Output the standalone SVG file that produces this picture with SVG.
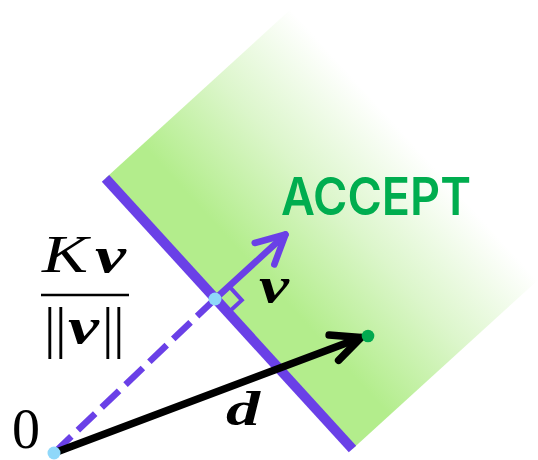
<svg xmlns="http://www.w3.org/2000/svg" width="538" height="460" viewBox="0 0 538 460">
  <style>
    .purple { stroke: #6a40e7; fill: none; }
    .math { font-family: "Liberation Serif", "DejaVu Serif", serif; fill: #000; }
    .bi { font-weight: bold; font-style: italic; }
    .it { font-style: italic; }
    .dot-blue { fill: #8fd8fa; }
  </style>
  <defs>
    <linearGradient id="acceptGrad" gradientUnits="userSpaceOnUse" x1="229" y1="313.6" x2="414" y2="144.8">
      <stop offset="0" stop-color="#b3ed8c"/>
      <stop offset="0.2" stop-color="#b3ed8c"/>
      <stop offset="0.6" stop-color="#dcf6cb"/>
      <stop offset="1" stop-color="#ffffff"/>
    </linearGradient>
  </defs>
  <rect width="538" height="460" fill="#ffffff"/>

  <g id="accept-region">
    <polygon points="105.5,178.3 475,-159 722.5,111.7 352.5,449" fill="url(#acceptGrad)"/>
    <text x="281" y="215" font-family="Inter, 'Noto Sans', sans-serif" font-weight="600" font-size="52" fill="#00ad4f" textLength="190" lengthAdjust="spacingAndGlyphs">ACCEPT</text>
  </g>

  <g id="connectors">
    <line id="boundary" class="purple" x1="105.5" y1="178.3" x2="352.5" y2="449" stroke-width="10"/>
    <line id="projection" class="purple" x1="54" y1="453" x2="215" y2="299" stroke-width="6.5" stroke-dasharray="24 9"/>
    <g id="vector-v" class="purple" stroke-width="6.5" stroke-linecap="round" stroke-linejoin="round">
      <line x1="215" y1="299" x2="285.5" y2="234.5"/>
      <polyline points="254.7,243 285.5,234.5 274.3,264.5"/>
    </g>
    <polyline id="right-angle" class="purple" stroke-width="4" points="229,286.2 241.8,300.2 227.8,313"/>
    <g id="vector-d" stroke="#000" stroke-width="7.5" stroke-linecap="round" stroke-linejoin="round" fill="none">
      <line x1="54" y1="453" x2="361" y2="337.5"/>
      <polyline points="329.1,335 361,337.5 338.6,360.3"/>
    </g>
  </g>

  <g id="point-d">
    <circle cx="368" cy="336" r="6.3" fill="#00a94f"/>
  </g>
  <g id="origin">
    <circle class="dot-blue" cx="54" cy="453" r="6.5"/>
    <text class="math" x="12" y="448" font-size="56">0</text>
  </g>
  <g id="foot">
    <circle class="dot-blue" cx="215" cy="299" r="6.5"/>
  </g>

  <g id="label-fraction">
    <text class="math it" x="42" y="272" font-size="53" textLength="46" lengthAdjust="spacingAndGlyphs">K</text>
    <text class="math bi" x="95" y="272" font-size="50" textLength="31" lengthAdjust="spacingAndGlyphs">v</text>
    <line x1="41" y1="295" x2="129" y2="295" stroke="#000" stroke-width="2.5"/>
    <text class="math" font-size="58" y="347"><tspan x="44">|</tspan><tspan x="55">|</tspan><tspan x="102">|</tspan><tspan x="113">|</tspan></text>
    <text class="math bi" x="68" y="343" font-size="50" textLength="31" lengthAdjust="spacingAndGlyphs">v</text>
  </g>
  <g id="label-v">
    <text class="math bi" x="259" y="302" font-size="50" textLength="30" lengthAdjust="spacingAndGlyphs">v</text>
  </g>
  <g id="label-d">
    <text class="math bi" x="226" y="425" font-size="48" textLength="34" lengthAdjust="spacingAndGlyphs">d</text>
  </g>
</svg>
